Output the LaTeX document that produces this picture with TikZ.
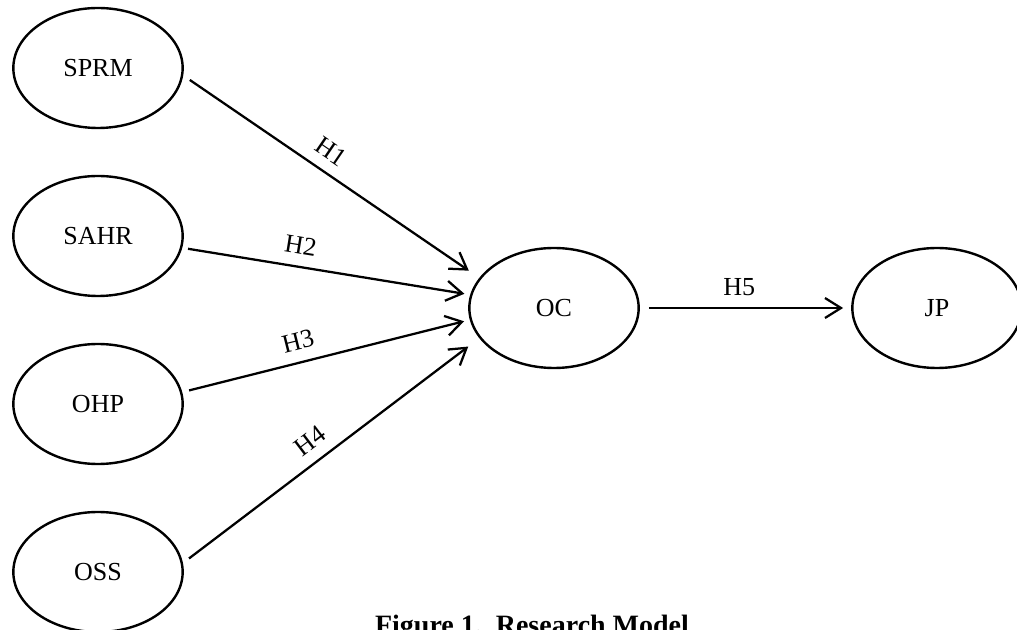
\documentclass[tikz,border=0pt]{standalone}
\usepackage{fontspec}
\setmainfont{Liberation Serif}
\usetikzlibrary{shapes.geometric,arrows.meta}
\tikzset{
  construct/.style={ellipse, draw, line width=1.8pt, minimum width=127pt, minimum height=90pt,
    inner sep=0pt, font=\fontsize{19.5}{22}\selectfont},
  path/.style={line width=1.7pt, -{Straight Barb[length=12pt,width=15pt]}},
  hyp/.style={font=\fontsize{19.5}{22}\selectfont, sloped, above=5pt}
}
\begin{document}
\begin{tikzpicture}[x=0.75pt, y=-0.75pt]
        \useasboundingbox (0,0) rectangle (1017,630);
        % Constructs
        \node[construct] (sprm) at (98,68) {SPRM};
        \node[construct] (sahr) at (98,236) {SAHR};
        \node[construct] (ohp) at (98,404) {OHP};
        \node[construct] (oss) at (98,572) {OSS};
        \node[construct] (oc) at (554,308) {OC};
        \node[construct] (jp) at (937,308) {JP};

        % Paths
        \draw[path, shorten <=6pt, shorten >=9.5pt] (sprm.-5.1) -- node[hyp, pos=0.46] {H1} (oc.158.9);
        \draw[path, shorten <=4.4pt, shorten >=4.4pt] (sahr.-8.2) -- node[hyp, pos=0.4] {H2} (oc.171.7);
        \draw[path, shorten <=5.3pt, shorten >=4.4pt] (ohp.8.4) -- node[hyp, pos=0.42] {H3} (oc.-172.1);
        \draw[path, shorten <=5.7pt, shorten >=10.4pt] (oss.6.4) -- node[hyp, pos=0.47] {H4} (oc.-158.2);
        \draw[path, shorten <=6.75pt, shorten >=6pt] (oc.east) -- node[hyp, pos=0.47] {H5} (jp.west);

        % Caption
        \node[anchor=base, font=\fontsize{21}{24}\selectfont\bfseries] (caption) at (532,634) {Figure 1.\ \ Research Model};
    \end{tikzpicture}
\end{document}
